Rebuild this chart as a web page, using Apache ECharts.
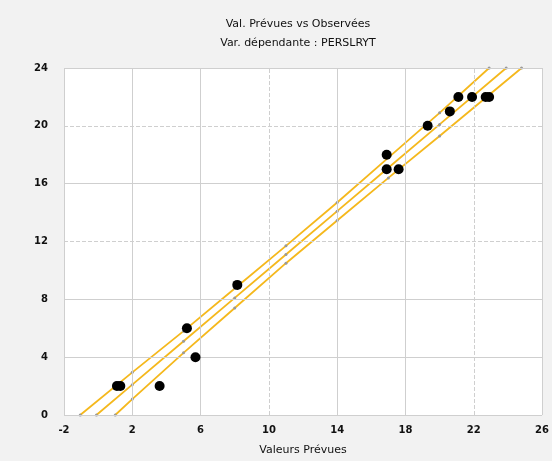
<!DOCTYPE html>
<html><head><meta charset="utf-8">
<script src="https://cdn.jsdelivr.net/npm/echarts@6/dist/echarts.min.js"></script>
<style>html,body{margin:0;padding:0;background:#f2f2f2}#c{width:552px;height:461px}</style>
</head><body><div id="c"></div>
<script>
const titleLines = ["Val. Prévues vs Observées", "Var. dépendante : PERSLRYT"];
const xAxisName = "Valeurs Prévues";
const xTicks = [-2, 2, 6, 10, 14, 18, 22, 26];
const yTicks = [0, 4, 8, 12, 16, 20, 24];
const dashedX = [10, 22];
const dashedY = [12, 20];
const predicted = [1.1, 1.3, 3.6, 5.2, 5.7, 8.15, 16.9, 16.9, 17.6, 19.3, 20.6, 21.1, 21.9, 22.7, 22.9];
const observed  = [2, 2, 2, 6, 4, 9, 18, 17, 17, 20, 21, 22, 22, 22, 22];
const fitX   = [-0.1, 2, 5, 8, 11, 14, 17, 20, 23.9];
const fitY   = [0, 2.1, 5.1, 8.1, 11.1, 14.1, 17.1, 20.1, 24];
const upperX = [-1.05, 2, 5, 8, 11, 14, 17, 20, 22.9];
const upperY = [0, 2.95, 5.8, 8.75, 11.7, 14.7, 17.8, 20.9, 24];
const lowerX = [1.0, 2, 5, 8, 11, 14, 17, 20, 24.8];
const lowerY = [0, 1.1, 4.3, 7.4, 10.5, 13.45, 16.4, 19.3, 24];

const zip = (a, b) => a.map((v, i) => [v, b[i]]);
const chart = echarts.init(document.getElementById('c'));
const gridLines = [];
xTicks.forEach(v => gridLines.push({xAxis: v, lineStyle: {type: dashedX.includes(v) ? 'dashed' : 'solid'}}));
yTicks.forEach(v => gridLines.push({yAxis: v, lineStyle: {type: dashedY.includes(v) ? 'dashed' : 'solid'}}));
const lineSeries = (name, d) => ({
  name, type: 'line', data: d, showSymbol: true, symbol: 'circle', symbolSize: 3,
  itemStyle: {color: '#999'}, lineStyle: {color: '#f5b81c', width: 1.8}, z: 3, silent: true
});
chart.setOption({
  backgroundColor: '#f2f2f2',
  animation: false,
  title: {
    text: titleLines.join('\n'), left: 293, top: 10, textAlign: 'center',
    textStyle: {fontFamily: 'DejaVu Sans', fontSize: 11, fontWeight: 'normal', color: '#111', lineHeight: 19}
  },
  grid: {left: 64, right: 9, top: 68, bottom: 45, show: true, backgroundColor: '#ffffff', borderWidth: 0},
  xAxis: {
    type: 'value', min: -2, max: 26, interval: 4,
    name: xAxisName, nameLocation: 'middle', nameGap: 30,
    nameTextStyle: {fontFamily: 'DejaVu Sans', fontSize: 11, color: '#111'},
    axisLine: {show: false}, axisTick: {show: false}, splitLine: {show: false},
    axisLabel: {fontFamily: 'DejaVu Sans', fontSize: 10, fontWeight: 'bold', color: '#111', margin: 10}
  },
  yAxis: {
    type: 'value', min: 0, max: 24, interval: 4,
    axisLine: {show: false}, axisTick: {show: false}, splitLine: {show: false},
    axisLabel: {fontFamily: 'DejaVu Sans', fontSize: 10, fontWeight: 'bold', color: '#111', margin: 16}
  },
  series: [
    {type: 'line', data: [], silent: true,
     markLine: {silent: true, symbol: 'none', label: {show: false}, animation: false,
       lineStyle: {color: '#cfcfcf', width: 1}, data: gridLines}},
    lineSeries('upper', zip(upperX, upperY)),
    lineSeries('fit', zip(fitX, fitY)),
    lineSeries('lower', zip(lowerX, lowerY)),
    {name: 'obs', type: 'scatter', data: zip(predicted, observed), symbolSize: 10,
     itemStyle: {color: '#000', opacity: 1}, z: 5}
  ]
});
</script></body></html>
